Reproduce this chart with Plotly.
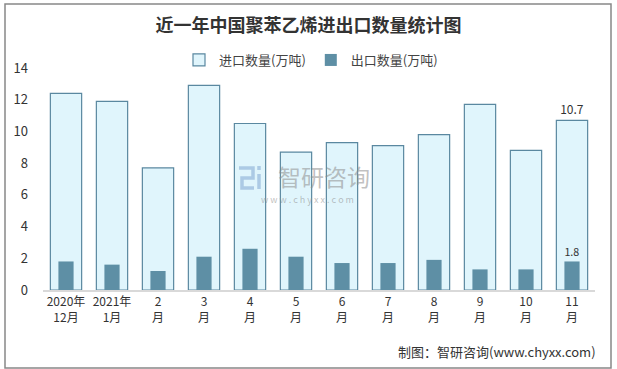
import plotly.graph_objects as go

categories = ["2020年<br>12月", "2021年<br>1月", "2<br>月", "3<br>月", "4<br>月", "5<br>月",
              "6<br>月", "7<br>月", "8<br>月", "9<br>月", "10<br>月", "11<br>月"]
imports = [12.4, 11.9, 7.7, 12.9, 10.5, 8.7, 9.3, 9.1, 9.8, 11.7, 8.8, 10.7]
exports = [1.8, 1.6, 1.2, 2.1, 2.6, 2.1, 1.7, 1.7, 1.9, 1.3, 1.3, 1.8]
import_labels = [""] * 11 + ["10.7"]
export_labels = [""] * 11 + ["1.8"]
yticks = [0, 2, 4, 6, 8, 10, 12, 14]

W, H = 617, 369
ML, MR, MT, MB = 43, 22, 68, 79
PW, PH = W - ML - MR, H - MT - MB

def px(x):
    return (x - ML) / PW

def py(y):
    return (H - MB - y) / PH

font = "Noto Sans CJK SC, sans-serif"

fig = go.Figure()
fig.add_trace(go.Bar(
    x=categories, y=imports, name="进口数量(万吨)", width=0.68,
    marker=dict(color="#e0f5fc", line=dict(color="#5a88a0", width=1.2)),
    text=import_labels, textposition="outside", cliponaxis=False,
    textfont=dict(size=12, color="#333"),
))
fig.add_trace(go.Bar(
    x=categories, y=exports, name="出口数量(万吨)", width=0.33,
    marker=dict(color="#5e8fa5", line=dict(color="#5e8fa5", width=0)),
    text=export_labels, textposition="outside", cliponaxis=False,
    textfont=dict(size=12, color="#333"),
))

fig.update_layout(
    width=W, height=H,
    margin=dict(l=ML, r=MR, t=MT, b=MB),
    paper_bgcolor="white", plot_bgcolor="white",
    barmode="overlay",
    font=dict(family=font, size=12, color="#333"),
    title=dict(text="<b>近一年中国聚苯乙烯进出口数量统计图</b>", x=0.5, xanchor="center",
               y=1 - 26 / H, yanchor="middle",
               font=dict(size=18, color="#333", family=font)),
    legend=dict(orientation="h", x=px(311), xanchor="center", y=py(60), yanchor="middle",
                font=dict(size=13, color="#444"), itemwidth=30, bgcolor="rgba(0,0,0,0)",
                tracegroupgap=0),
    showlegend=True,
    xaxis=dict(showgrid=False, showline=True, linecolor="#d9d9d9", linewidth=1.5,
               ticks="", tickfont=dict(size=12, color="#333")),
    yaxis=dict(range=[0, 14], tickvals=yticks, showgrid=False, zeroline=False,
               showline=False, ticks="", tickfont=dict(size=13, color="#333"),
               ticklabelstandoff=14),
)

wm = "rgba(140,140,140,0.55)"
logo = "rgba(120,160,205,0.5)"
shapes = [
    dict(type="rect", xref="paper", yref="paper",
         x0=px(5), x1=px(611), y0=py(4), y1=py(368),
         line=dict(color="#888", width=1.5), fillcolor="rgba(0,0,0,0)", layer="below"),
    # watermark logo (stylised)
    dict(type="path", xref="paper", yref="paper",
         path=(f"M {px(239)} {py(168)} L {px(253)} {py(168)} L {px(253)} {py(178)} "
               f"L {px(242)} {py(178)} L {px(242)} {py(188)} L {px(254)} {py(188)}"),
         line=dict(color=logo, width=3.5), fillcolor="rgba(0,0,0,0)"),
    dict(type="line", xref="paper", yref="paper",
         x0=px(259), x1=px(259), y0=py(174), y1=py(189),
         line=dict(color=logo, width=3.5)),
    dict(type="line", xref="paper", yref="paper",
         x0=px(259), x1=px(259), y0=py(166), y1=py(170),
         line=dict(color=logo, width=3.5)),
]
fig.update_layout(shapes=shapes)

fig.add_annotation(text="智研咨询", xref="paper", yref="paper", x=px(324), y=py(176),
                   showarrow=False, font=dict(size=23, color=wm, family=font))
fig.add_annotation(text="w w w . c h y x x . c o m", xref="paper", yref="paper", x=px(307), y=py(200),
                   showarrow=False, font=dict(size=9, color=wm, family=font))
fig.add_annotation(text="制图：智研咨询(www.chyxx.com)", xref="paper", yref="paper",
                   x=px(598), y=py(351), xanchor="right", yanchor="middle", showarrow=False,
                   font=dict(size=13, color="#333", family=font))

fig.write_html("out.html", config={"displayModeBar": False},
               post_script="document.body.style.margin='0px';document.body.style.padding='0px';")
